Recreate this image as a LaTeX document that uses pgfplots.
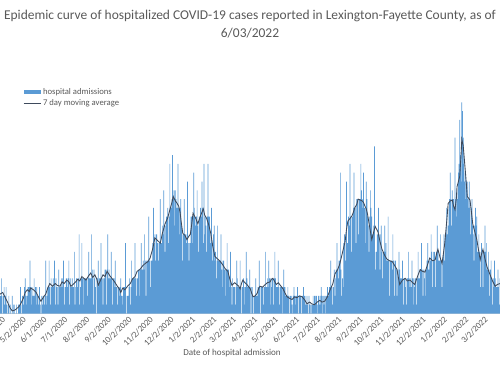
\documentclass[border=0pt]{standalone}
\usepackage{fontspec}
\setmainfont{Carlito}
\usepackage{pgfplots}
\pgfplotsset{compat=1.18}
\usepackage{pgfplotstable}
\definecolor{barblue}{HTML}{5B9BD5}
\definecolor{maline}{HTML}{3E4A5C}
\definecolor{txt}{HTML}{595959}
\definecolor{axl}{HTML}{D9D9D9}
\pgfplotstableread[row sep=\\]{
v\\
2\\2\\4\\2\\0\\2\\3\\
1\\2\\3\\1\\0\\1\\2\\
0\\1\\0\\0\\2\\0\\1\\
1\\0\\0\\1\\0\\0\\1\\
1\\1\\3\\1\\0\\2\\1\\
2\\3\\4\\2\\1\\2\\3\\
3\\3\\6\\3\\1\\3\\2\\
2\\4\\2\\3\\1\\3\\2\\
1\\2\\3\\1\\0\\2\\1\\
2\\2\\1\\2\\6\\1\\2\\
3\\3\\6\\3\\1\\4\\3\\
3\\4\\3\\6\\1\\4\\3\\
3\\1\\5\\3\\3\\3\\4\\
3\\4\\6\\3\\1\\3\\4\\
4\\3\\4\\6\\1\\4\\3\\
3\\4\\3\\3\\7\\1\\3\\
4\\4\\3\\4\\9\\1\\3\\
4\\8\\4\\4\\1\\4\\4\\
4\\4\\2\\4\\7\\4\\4\\
4\\9\\4\\5\\1\\5\\4\\
3\\0\\4\\4\\6\\3\\4\\
4\\8\\4\\4\\1\\4\\4\\
5\\5\\1\\5\\9\\4\\5\\
4\\4\\7\\4\\1\\4\\4\\
3\\6\\3\\3\\1\\3\\3\\
2\\3\\4\\2\\1\\2\\3\\
3\\3\\8\\0\\2\\2\\2\\
3\\4\\1\\3\\6\\4\\4\\
4\\4\\8\\4\\2\\4\\4\\
5\\2\\5\\5\\8\\5\\5\\
6\\5\\9\\6\\2\\6\\6\\
6\\11\\6\\6\\3\\6\\6\\
8\\12\\8\\9\\6\\9\\9\\
8\\6\\8\\8\\13\\8\\8\\
10\\9\\14\\10\\7\\10\\11\\
11\\12\\8\\11\\17\\12\\12\\
13\\18\\13\\14\\10\\14\\13\\
12\\12\\17\\12\\9\\12\\13\\
10\\9\\6\\9\\13\\9\\9\\
8\\9\\15\\8\\6\\8\\8\\
11\\11\\8\\11\\16\\12\\11\\
10\\11\\14\\10\\7\\11\\11\\
12\\11\\15\\12\\8\\17\\9\\
11\\10\\7\\11\\17\\11\\11\\
9\\8\\12\\8\\6\\9\\10\\
6\\7\\4\\6\\10\\6\\6\\
6\\6\\9\\5\\3\\6\\6\\
5\\2\\5\\5\\8\\5\\5\\
4\\3\\7\\3\\1\\4\\3\\
3\\3\\1\\3\\6\\4\\3\\
3\\3\\6\\3\\0\\3\\3\\
4\\3\\1\\3\\7\\4\\3\\
3\\3\\5\\3\\0\\3\\3\\
2\\0\\2\\2\\4\\2\\2\\
3\\3\\6\\3\\0\\3\\3\\
3\\1\\3\\3\\7\\3\\3\\
4\\3\\6\\4\\1\\4\\3\\
4\\4\\1\\4\\7\\4\\3\\
3\\3\\6\\3\\1\\3\\3\\
3\\0\\3\\5\\3\\3\\2\\
2\\2\\3\\2\\0\\2\\2\\
2\\1\\0\\2\\3\\2\\1\\
2\\2\\3\\2\\0\\2\\2\\
2\\0\\2\\2\\3\\2\\2\\
1\\1\\2\\1\\0\\2\\1\\
1\\0\\1\\1\\2\\1\\2\\
1\\2\\2\\1\\0\\2\\1\\
2\\1\\3\\2\\0\\2\\1\\
2\\0\\2\\2\\3\\2\\2\\
3\\3\\6\\3\\1\\3\\3\\
5\\2\\4\\5\\8\\5\\4\\
6\\6\\16\\5\\2\\4\\3\\
8\\9\\6\\8\\15\\8\\8\\
11\\10\\17\\11\\7\\11\\11\\
12\\16\\12\\12\\8\\13\\13\\
13\\9\\13\\13\\17\\14\\13\\
12\\16\\12\\12\\8\\15\\13\\
11\\10\\7\\11\\14\\12\\11\\
9\\9\\10\\19\\5\\7\\7\\
9\\9\\12\\9\\5\\9\\10\\
7\\4\\7\\7\\10\\7\\8\\
6\\6\\11\\6\\2\\6\\6\\
6\\5\\9\\6\\2\\6\\6\\
5\\2\\5\\4\\7\\5\\4\\
4\\4\\6\\4\\1\\4\\3\\
4\\1\\4\\4\\7\\4\\3\\
4\\3\\6\\4\\1\\4\\3\\
4\\4\\1\\4\\7\\4\\4\\
5\\5\\8\\5\\2\\5\\4\\
5\\2\\5\\6\\8\\5\\5\\
6\\6\\9\\7\\3\\6\\7\\
7\\3\\6\\7\\10\\7\\6\\
6\\6\\9\\6\\3\\6\\7\\
9\\6\\9\\9\\12\\9\\10\\
12\\13\\16\\13\\10\\14\\13\\
13\\12\\20\\13\\11\\14\\13\\
16\\17\\22\\18\\15\\24\\23\\
20\\17\\15\\16\\13\\15\\15\\
13\\12\\15\\12\\9\\12\\13\\
10\\9\\6\\10\\12\\10\\11\\
7\\7\\9\\7\\3\\7\\8\\
7\\3\\7\\7\\10\\7\\8\\
5\\5\\7\\5\\2\\5\\6\\
4\\1\\4\\3\\6\\4\\3\\
3\\3\\5\\3\\1\\4\\
}\admissions
\begin{document}
\begin{tikzpicture}[x=1pt,y=1pt]
\node[font=\fontsize{10.1}{13.5}\selectfont, text=txt, align=center] at (187.5,255.75) {Epidemic curve of hospitalized COVID-19 cases reported in Lexington-Fayette County, as of\\6/03/2022};
\begin{axis}[
  at={(0,58.5)}, anchor=south west, scale only axis,
  width=375pt, height=171.6pt,
  xmin=0, xmax=733, ymin=0, ymax=26,
  hide y axis,
  axis x line*=bottom,
  x axis line style={axl, line width=0.75pt, -},
  xtick={2.3,32.7,63.0,93.4,125.8,157.2,187.5,218.9,249.3,280.6,311.9,340.3,371.6,402.0,433.3,463.7,495.0,526.4,556.7,588.1,618.5,649.9,681.2,709.5,740.9},
  xticklabels={4/2/2020,5/2/2020,6/1/2020,7/1/2020,8/2/2020,9/2/2020,10/2/2020,11/2/2020,12/2/2020,1/2/2021,2/2/2021,3/2/2021,4/2/2021,5/2/2021,6/2/2021,7/2/2021,8/2/2021,9/2/2021,10/2/2021,11/2/2021,12/2/2021,1/2/2022,2/2/2022,3/2/2022,4/2/2022},
  xtick style={draw=none},
  xticklabel style={font=\fontsize{6.6}{7.5}\selectfont, text=txt, rotate=45, anchor=north east, inner sep=1pt},
  legend style={at={(0.046,0.995)}, anchor=north west, draw=none, fill=none, font=\fontsize{6.5}{7}\selectfont, text=txt, row sep=0pt, inner sep=0pt, nodes={inner sep=1.4pt}},
  legend cell align=left,
]
\addplot[ybar, bar width=1, fill=barblue, draw=none,
  legend image code/.code={\fill[barblue] (0pt,-1.6pt) rectangle (12.75pt,1.6pt);}]
  table[x expr=\coordindex, y=v] {\admissions};
\addlegendentry{hospital admissions}
\addplot[color=maline, line width=0.65pt,
  legend image code/.code={\draw[maline, line width=0.65pt] (0pt,0pt) -- (12.75pt,0pt);}]
  coordinates {(0,2.2)(4,2.4)(7,1.9)(11,1.3)(15,0.6)(18,0.3)(22,0.4)(25,0.6)(28,0.8)(31,1.2)(34,1.7)(37,2.4)(40,2.7)(43,2.5)(45,2.9)(49,2.7)(53,2.4)(57,1.8)(60,1.4)(64,1.9)(67,2.2)(70,2.9)(73,3.4)(77,3.1)(81,3.4)(84,3.2)(88,3.1)(91,3.6)(94,3.4)(98,3.8)(101,3.6)(104,3.1)(107,3.3)(111,3.6)(114,3.9)(117,3.7)(120,4.2)(123,4.0)(126,3.8)(130,4.3)(133,4.6)(136,4.1)(139,4.4)(142,3.9)(144,3.2)(148,3.9)(151,4.4)(154,4.2)(157,4.8)(161,4.3)(164,4.0)(168,3.6)(172,3.1)(175,2.8)(177,2.4)(180,2.9)(183,2.7)(187,3.1)(191,3.4)(194,3.9)(198,4.2)(201,4.8)(205,5.0)(209,5.4)(213,5.7)(217,5.9)(220,6.3)(224,7.4)(227,8.6)(231,8.3)(235,8.0)(238,9.1)(242,10.2)(246,10.9)(249,11.8)(252,12.6)(254,13.3)(257,12.8)(259,12.6)(262,12.2)(264,11.5)(266,10.2)(268,9.1)(271,8.9)(274,8.4)(277,8.8)(279,9.0)(281,10.1)(283,11.4)(287,10.8)(290,10.2)(294,11.1)(298,11.9)(300,11.2)(303,10.8)(306,10.1)(309,9.1)(312,7.6)(315,6.5)(319,6.2)(323,5.9)(326,5.6)(330,5.1)(334,4.8)(337,3.9)(340,3.2)(344,3.5)(347,3.3)(350,3.1)(352,2.8)(354,3.4)(356,3.8)(359,3.5)(362,3.3)(364,3.1)(367,2.8)(369,2.3)(371,1.9)(374,2.0)(377,2.3)(379,2.8)(381,3.1)(385,3.0)(389,3.3)(392,3.5)(396,3.6)(398,3.9)(400,4.0)(403,3.6)(405,3.3)(408,3.5)(411,3.2)(413,3.0)(415,2.8)(418,2.3)(421,1.9)(425,1.7)(428,1.6)(432,1.9)(435,1.8)(439,2.0)(443,1.9)(447,1.5)(450,1.1)(454,1.3)(457,1.1)(461,1.0)(465,1.3)(469,1.5)(472,1.3)(476,1.4)(480,1.9)(484,2.7)(488,3.4)(491,4.5)(495,5.0)(498,5.6)(502,6.9)(506,8.2)(508,9.6)(510,10.5)(513,10.8)(516,11.1)(518,11.5)(520,12.0)(523,12.4)(525,13.0)(528,12.9)(531,12.8)(533,12.6)(535,12.2)(537,11.9)(539,11.2)(542,9.8)(545,8.4)(548,9.3)(550,9.9)(552,9.6)(554,9.3)(557,8.2)(560,7.3)(564,6.6)(567,6.2)(571,6.0)(575,5.9)(579,5.4)(582,5.0)(584,4.1)(586,3.3)(590,3.8)(594,4.0)(597,3.7)(601,3.8)(605,3.5)(608,3.3)(612,4.2)(616,5.0)(619,4.8)(623,4.7)(627,5.6)(630,6.3)(634,6.0)(638,6.1)(640,6.8)(642,7.3)(645,6.4)(648,5.7)(650,6.8)(652,8.0)(655,10.6)(657,12.5)(660,12.8)(663,12.9)(665,12.2)(667,11.8)(669,13.1)(670,14.4)(672,15.0)(674,15.6)(676,18.2)(677,19.8)(679,19.1)(680,18.2)(683,15.4)(685,13.3)(687,13.1)(689,12.9)(691,11.6)(693,10.2)(696,9.3)(699,8.4)(702,7.0)(704,6.1)(706,6.8)(708,7.3)(711,6.2)(714,5.3)(716,4.9)(718,4.5)(722,3.7)(726,3.1)(729,3.3)(733,3.4)};
\addlegendentry{7 day moving average}
\end{axis}
\node[font=\fontsize{6.8}{8}\selectfont, text=txt] at (174,9) {Date of hospital admission};
\pgfresetboundingbox
\useasboundingbox (0,0) rectangle (375,273.75);
\end{tikzpicture}
\end{document}
